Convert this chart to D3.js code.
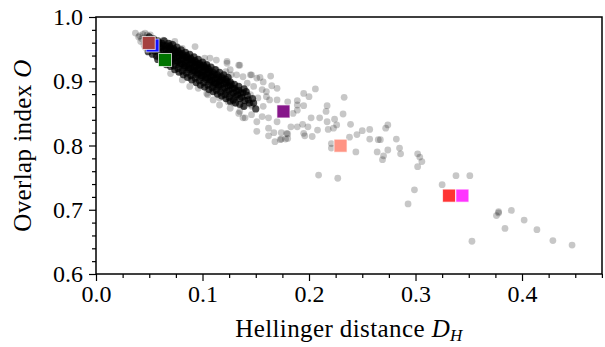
<!DOCTYPE html>
<html>
<head>
<meta charset="utf-8">
<script src="https://cdn.jsdelivr.net/npm/d3@7"></script>
<style>
  body { margin: 0; background: #fff; }
  svg text { font-family: "Liberation Serif", "Times New Roman", Times, "DejaVu Serif", serif !important; fill: #000; }
</style>
</head>
<body>
<svg id="chart"></svg>
<script>
var width = 605,
    height = 347,
    margin = {top: 17, right: 3, bottom: 73, left: 96};

// axis ticks
var xTicks = [0.0, 0.1, 0.2, 0.3, 0.4];
var xMinor = [0.025, 0.05, 0.075, 0.125, 0.15, 0.175, 0.225, 0.25, 0.275, 0.325, 0.35, 0.375, 0.425, 0.45, 0.475];
var yTicks = [0.6, 0.7, 0.8, 0.9, 1.0];
var yMinor = [0.62, 0.64, 0.66, 0.68, 0.72, 0.74, 0.76, 0.78, 0.82, 0.84, 0.86, 0.88, 0.92, 0.94, 0.96, 0.98];

// scattered pairs [D_H, O] (light grey)
var scatterPoints = [
  [0.037,0.975],[0.040,0.969],[0.046,0.975],[0.051,0.972],[0.041,0.971],[0.043,0.966],[0.044,0.973],[0.042,0.962],
  [0.046,0.968],[0.047,0.961],[0.045,0.957],[0.048,0.972],[0.046,0.953],
  [0.063,0.964],[0.070,0.959],[0.074,0.962],[0.081,0.951],[0.093,0.954],[0.102,0.936],[0.107,0.936],[0.113,0.933],
  [0.123,0.931],[0.134,0.925],[0.122,0.915],[0.126,0.918],[0.132,0.910],[0.146,0.910],[0.151,0.905],
  [0.070,0.912],[0.081,0.902],[0.088,0.892],[0.096,0.889],[0.105,0.879],[0.110,0.871],[0.116,0.863],[0.126,0.858],
  [0.134,0.850],[0.140,0.843],[0.151,0.837],[0.129,0.869],[0.146,0.863],
  [0.104,0.925],[0.113,0.918],[0.123,0.928],[0.127,0.910],[0.116,0.902],[0.110,0.892],[0.104,0.881],[0.121,0.884],
  [0.129,0.889],[0.132,0.876],[0.124,0.868],[0.138,0.871],[0.138,0.861],[0.146,0.861],[0.135,0.853],[0.146,0.848],
  [0.138,0.843],[0.145,0.879],[0.152,0.874],[0.157,0.861],[0.163,0.871],[0.160,0.876],[0.116,0.874],[0.129,0.866],
  [0.135,0.925],[0.145,0.910],[0.154,0.906],[0.164,0.908],[0.170,0.889],[0.165,0.893],[0.160,0.884],[0.156,0.887],
  [0.148,0.892],[0.142,0.897],[0.138,0.907],[0.180,0.868],[0.189,0.855],[0.170,0.837],[0.162,0.843],[0.156,0.845],
  [0.151,0.822],[0.162,0.827],[0.167,0.820],[0.162,0.815],[0.174,0.820],[0.180,0.818],[0.168,0.806],[0.173,0.809],
  [0.180,0.811],[0.157,0.899],[0.170,0.871],
  [0.195,0.881],[0.200,0.876],[0.206,0.888],[0.233,0.875],[0.189,0.870],[0.195,0.862],[0.189,0.863],[0.185,0.850],
  [0.179,0.853],[0.217,0.862],[0.216,0.853],[0.232,0.849],[0.202,0.843],[0.210,0.843],[0.224,0.841],[0.217,0.837],
  [0.226,0.832],[0.239,0.833],[0.183,0.829],[0.189,0.829],[0.194,0.833],[0.199,0.829],[0.208,0.824],[0.218,0.825],
  [0.223,0.827],[0.179,0.819],[0.195,0.819],[0.203,0.814],[0.196,0.815],[0.174,0.810],[0.178,0.810],[0.250,0.823],
  [0.257,0.825],[0.274,0.832],[0.272,0.827],[0.245,0.817],[0.238,0.813],[0.257,0.810],[0.265,0.809],[0.267,0.809],
  [0.282,0.810],[0.221,0.803],[0.221,0.796],[0.244,0.790],[0.264,0.790],[0.274,0.793],[0.285,0.796],[0.286,0.787],
  [0.270,0.784],[0.269,0.778],[0.302,0.787],[0.304,0.782],[0.306,0.775],[0.302,0.767],[0.209,0.754],[0.227,0.749],
  [0.299,0.731],[0.325,0.739],[0.338,0.753],[0.351,0.753],[0.378,0.697],[0.376,0.691],[0.390,0.699],[0.402,0.684],
  [0.384,0.671],[0.414,0.669],[0.353,0.651],[0.429,0.652],[0.447,0.645],[0.293,0.709],[0.378,0.695]
];

// the crowded core of the cloud (reads as one dark band)
var corePoints = [
  [0.050,0.964],[0.049,0.957],[0.051,0.951],[0.050,0.969],[0.052,0.960],[0.049,0.946],
  [0.054,0.960],[0.053,0.953],[0.055,0.947],[0.054,0.966],[0.056,0.956],[0.053,0.942],[0.055,0.963],
  [0.058,0.957],[0.057,0.950],[0.059,0.944],[0.058,0.963],[0.060,0.953],[0.057,0.939],[0.059,0.960],[0.058,0.934],
  [0.062,0.953],[0.061,0.946],[0.063,0.940],[0.062,0.959],[0.064,0.949],[0.061,0.935],[0.063,0.956],[0.062,0.930],[0.064,0.963],
  [0.066,0.949],[0.065,0.942],[0.067,0.936],[0.066,0.955],[0.068,0.945],[0.065,0.931],[0.067,0.952],[0.066,0.926],[0.068,0.959],[0.067,0.939],
  [0.070,0.946],[0.069,0.939],[0.071,0.933],[0.070,0.952],[0.072,0.942],[0.069,0.928],[0.071,0.949],[0.070,0.923],[0.072,0.957],[0.071,0.936],[0.069,0.955],
  [0.074,0.942],[0.073,0.935],[0.075,0.929],[0.074,0.948],[0.076,0.938],[0.073,0.924],[0.075,0.945],[0.074,0.918],[0.076,0.953],[0.075,0.932],[0.073,0.951],
  [0.078,0.938],[0.077,0.931],[0.079,0.925],[0.078,0.944],[0.080,0.934],[0.077,0.920],[0.079,0.941],[0.078,0.914],[0.080,0.949],[0.079,0.928],[0.077,0.947],
  [0.082,0.934],[0.081,0.927],[0.083,0.921],[0.082,0.940],[0.084,0.930],[0.081,0.916],[0.083,0.937],[0.082,0.910],[0.084,0.945],[0.083,0.924],[0.081,0.943],
  [0.086,0.931],[0.085,0.924],[0.087,0.918],[0.086,0.937],[0.088,0.927],[0.085,0.913],[0.087,0.934],[0.086,0.906],[0.088,0.942],[0.087,0.921],[0.085,0.940],
  [0.090,0.927],[0.089,0.920],[0.091,0.914],[0.090,0.933],[0.092,0.923],[0.089,0.909],[0.091,0.930],[0.090,0.902],[0.092,0.938],[0.091,0.917],[0.089,0.936],
  [0.094,0.923],[0.093,0.916],[0.095,0.910],[0.094,0.929],[0.096,0.919],[0.093,0.905],[0.095,0.926],[0.094,0.898],[0.096,0.934],[0.095,0.913],[0.093,0.932],
  [0.098,0.919],[0.097,0.912],[0.099,0.906],[0.098,0.925],[0.100,0.915],[0.097,0.901],[0.099,0.922],[0.098,0.894],[0.100,0.930],[0.099,0.909],[0.097,0.928],
  [0.102,0.916],[0.101,0.909],[0.103,0.903],[0.102,0.922],[0.104,0.912],[0.101,0.898],[0.103,0.919],[0.102,0.891],[0.104,0.926],[0.103,0.906],[0.101,0.925],
  [0.106,0.912],[0.105,0.905],[0.107,0.899],[0.106,0.918],[0.108,0.908],[0.105,0.894],[0.107,0.915],[0.106,0.887],[0.108,0.922],[0.107,0.902],[0.105,0.921],
  [0.110,0.908],[0.109,0.901],[0.111,0.895],[0.110,0.914],[0.112,0.904],[0.109,0.890],[0.111,0.911],[0.110,0.884],[0.112,0.918],[0.111,0.898],
  [0.114,0.904],[0.113,0.897],[0.115,0.891],[0.114,0.910],[0.116,0.900],[0.113,0.886],[0.115,0.907],[0.114,0.880],[0.116,0.914],[0.115,0.894],
  [0.118,0.901],[0.117,0.894],[0.119,0.888],[0.118,0.907],[0.120,0.897],[0.117,0.883],[0.119,0.904],[0.118,0.877],[0.120,0.910],
  [0.122,0.897],[0.121,0.890],[0.123,0.884],[0.122,0.903],[0.124,0.893],[0.121,0.879],[0.123,0.900],[0.122,0.873],[0.124,0.906],
  [0.126,0.893],[0.125,0.886],[0.127,0.880],[0.126,0.899],[0.128,0.889],[0.125,0.875],[0.127,0.896],[0.126,0.869],
  [0.130,0.889],[0.129,0.882],[0.131,0.876],[0.130,0.895],[0.132,0.885],[0.129,0.871],[0.131,0.866],
  [0.134,0.886],[0.133,0.879],[0.135,0.873],[0.134,0.892],[0.136,0.882],[0.135,0.864],
  [0.138,0.882],[0.137,0.875],[0.139,0.888],[0.140,0.870],[0.139,0.861],
  [0.142,0.878],[0.143,0.871],[0.141,0.884],[0.144,0.866],
  [0.147,0.873],[0.148,0.866],[0.150,0.857]
];

// highlighted cases (squares)
var markDH = [0.0531, 0.0495, 0.0648, 0.176, 0.2296, 0.3315, 0.344];
var markO = [0.9557, 0.9596, 0.9331, 0.853, 0.7997, 0.722, 0.722];
var markColors = ["#1010ff", "#a5403f", "#007400", "#86168a", "#ff9484", "#ff3434", "#ff34ff"];

var svg = d3.select("#chart")
    .attr("width", width)
    .attr("height", height);

var x = d3.scaleLinear().domain([0, 0.4751]).range([margin.left, width - margin.right]),
    y = d3.scaleLinear().domain([0.6, 1.0]).range([height - margin.bottom, margin.top]);

// grey cloud
svg.append("g").selectAll("circle")
    .data(scatterPoints)
  .enter().append("circle")
    .attr("cx", d => x(d[0]))
    .attr("cy", d => y(d[1]))
    .attr("r", 3.4)
    .attr("fill", "#000")
    .attr("fill-opacity", 0.22);

svg.append("g").selectAll("circle")
    .data(corePoints)
  .enter().append("circle")
    .attr("cx", d => x(d[0]))
    .attr("cy", d => y(d[1]))
    .attr("r", 3.6)
    .attr("fill", "#000")
    .attr("fill-opacity", 0.7);

// squares
var sq = 13;
svg.append("g").selectAll("rect")
    .data(markDH)
  .enter().append("rect")
    .attr("x", (d, i) => x(d) - sq / 2)
    .attr("y", (d, i) => y(markO[i]) - sq / 2)
    .attr("width", sq)
    .attr("height", sq)
    .attr("fill", (d, i) => markColors[i])
    .attr("stroke", "#fff")
    .attr("stroke-opacity", 0.7)
    .attr("stroke-width", 1);

// axes
svg.append("g")
    .attr("transform", "translate(0," + (height - margin.bottom) + ")")
    .call(d3.axisBottom(x).tickValues(xTicks).tickFormat(d3.format(".1f")).tickSize(7).tickPadding(4));
svg.append("g")
    .attr("transform", "translate(0," + (height - margin.bottom) + ")")
    .call(d3.axisBottom(x).tickValues(xMinor).tickFormat("").tickSize(4));

svg.append("g")
    .attr("transform", "translate(" + margin.left + ",0)")
    .call(d3.axisLeft(y).tickValues(yTicks).tickFormat(d3.format(".1f")).tickSize(7).tickPadding(6));
svg.append("g")
    .attr("transform", "translate(" + margin.left + ",0)")
    .call(d3.axisLeft(y).tickValues(yMinor).tickFormat("").tickSize(4));

svg.selectAll(".domain").remove();
svg.selectAll("g").attr("font-family", null);
svg.selectAll(".tick line").attr("stroke", "#000").attr("stroke-width", 1.2);
svg.selectAll(".tick text").attr("font-size", 24);

// frame
svg.append("rect")
    .attr("x", margin.left)
    .attr("y", margin.top)
    .attr("width", width - margin.left - margin.right)
    .attr("height", height - margin.top - margin.bottom)
    .attr("fill", "none")
    .attr("stroke", "#000")
    .attr("stroke-width", 1.5);

// axis labels
var xl = svg.append("text")
    .attr("x", (margin.left + width - margin.right) / 2)
    .attr("y", 337)
    .attr("text-anchor", "middle")
    .attr("font-size", 25)
    .attr("letter-spacing", 0.4);
xl.append("tspan").text("Hellinger distance ");
xl.append("tspan").attr("font-style", "italic").text("D");
xl.append("tspan").attr("font-style", "italic").attr("font-size", 17).attr("dy", 4).text("H");

var yl = svg.append("text")
    .attr("transform", "translate(31," + ((margin.top + height - margin.bottom) / 2) + ")rotate(-90)")
    .attr("text-anchor", "middle")
    .attr("font-size", 25)
    .attr("letter-spacing", 0.4);
yl.append("tspan").text("Overlap index ");
yl.append("tspan").attr("font-style", "italic").text("O");
</script>
</body>
</html>
